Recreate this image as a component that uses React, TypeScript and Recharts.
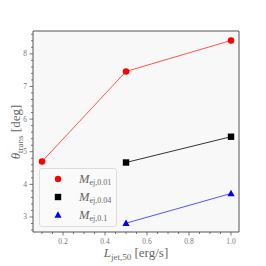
import React from 'react';
import { LineChart, Line, XAxis, YAxis, ReferenceArea } from 'recharts';

const lowMass = [
  { x: 0.1, y: 4.7 },
  { x: 0.5, y: 7.46 },
  { x: 1.0, y: 8.41 },
];
const midMass = [
  { x: 0.5, y: 4.67 },
  { x: 1.0, y: 5.46 },
];
const highMass = [
  { x: 0.5, y: 2.81 },
  { x: 1.0, y: 3.72 },
];

const xMajor = [0.2, 0.4, 0.6, 0.8, 1.0];
const yMajor = [3, 4, 5, 6, 7, 8];
const xDomain: [number, number] = [0.057, 1.038];
const yDomain: [number, number] = [2.54, 8.7];

const xTicks: number[] = [];
for (let v = 0.1; v <= 1.0001; v += 0.05) xTicks.push(Math.round(v * 100) / 100);
const yTicks: number[] = [];
for (let v = 2.6; v <= 8.6001; v += 0.2) yTicks.push(Math.round(v * 10) / 10);

const serif = '"Liberation Serif", "DejaVu Serif", serif';
const axisColor = '#555';
const labelColor = '#777';

const isMajor = (list: number[], v: number) => list.some((m) => Math.abs(m - v) < 1e-6);

const XTick = (props: any) => {
  const { x, y, payload } = props;
  const major = isMajor(xMajor, payload.value);
  return (
    <g>
      <line x1={x} x2={x} y1={y} y2={y + (major ? 3.5 : 2)} stroke={axisColor} strokeWidth={0.8} />
      {major && (
        <text x={x} y={y + 12} textAnchor="middle" fontSize={7.5} fill={labelColor} fontFamily={serif}>
          {payload.value.toFixed(1)}
        </text>
      )}
    </g>
  );
};

const YTick = (props: any) => {
  const { x, y, payload } = props;
  const major = isMajor(yMajor, payload.value);
  return (
    <g>
      <line x1={x} x2={x - (major ? 3.5 : 2)} y1={y} y2={y} stroke={axisColor} strokeWidth={0.8} />
      {major && (
        <text x={x - 6} y={y + 2.5} textAnchor="end" fontSize={7.5} fill={labelColor} fontFamily={serif}>
          {payload.value}
        </text>
      )}
    </g>
  );
};

const Circle = ({ cx, cy }: any) => <circle cx={cx} cy={cy} r={3.3} fill="#ff0000" />;
const Square = ({ cx, cy }: any) => <rect x={cx - 3.2} y={cy - 3.2} width={6.4} height={6.4} fill="#000" />;
const Triangle = ({ cx, cy }: any) => (
  <polygon points={`${cx},${cy - 3.8} ${cx - 3.6},${cy + 2.8} ${cx + 3.6},${cy + 2.8}`} fill="#0000ff" />
);

const legendRows = [
  { sub: 'ej,0.01', mark: <circle cx={5} cy={5} r={3.2} fill="#ff0000" /> },
  { sub: 'ej,0.04', mark: <rect x={1.8} y={1.8} width={6.4} height={6.4} fill="#000" /> },
  { sub: 'ej,0.1', mark: <polygon points="5,1.2 1.4,7.8 8.6,7.8" fill="#0000ff" /> },
];

const LegendBox = () => (
  <div
    style={{
      position: 'absolute',
      left: 39,
      top: 168,
      width: 78,
      height: 59,
      boxSizing: 'border-box',
      border: '1px solid #dcdcdc',
      borderRadius: 3,
      background: '#fafafa',
      fontFamily: serif,
      color: '#666',
      paddingTop: 1,
    }}
  >
    {legendRows.map((r) => (
      <div key={r.sub} style={{ display: 'flex', alignItems: 'center', height: 18 }}>
        <svg width={10} height={10} style={{ marginLeft: 13, marginRight: 16 }}>
          {r.mark}
        </svg>
        <span style={{ fontSize: 12.5, fontStyle: 'italic' }}>M</span>
        <span style={{ fontSize: 8, position: 'relative', top: 3 }}>{r.sub}</span>
      </div>
    ))}
  </div>
);

export default function App() {
  return (
    <div style={{ position: 'fixed', left: 0, top: 0, width: 266, height: 266, background: '#fff' }}>
      <LineChart width={266} height={266} margin={{ top: 31, right: 27, bottom: 0, left: 0 }}>
        <ReferenceArea
          x1={xDomain[0]}
          x2={xDomain[1]}
          y1={yDomain[0]}
          y2={yDomain[1]}
          fill="#f8f8f8"
          fillOpacity={1}
          stroke={axisColor}
          strokeWidth={1}
        />
        <XAxis
          type="number"
          dataKey="x"
          domain={xDomain}
          allowDataOverflow
          ticks={xTicks}
          interval={0}
          tickSize={0}
          tickMargin={0}
          tickLine={false}
          axisLine={false}
          tick={<XTick />}
          height={34}
        />
        <YAxis
          type="number"
          dataKey="y"
          domain={yDomain}
          allowDataOverflow
          ticks={yTicks}
          interval={0}
          tickSize={0}
          tickMargin={0}
          tickLine={false}
          axisLine={false}
          tick={<YTick />}
          width={33}
        />
        <Line
          data={lowMass}
          dataKey="y"
          stroke="#ff5555"
          strokeWidth={1}
          dot={<Circle />}
          activeDot={false}
          isAnimationActive={false}
        />
        <Line
          data={midMass}
          dataKey="y"
          stroke="#333"
          strokeWidth={1}
          dot={<Square />}
          activeDot={false}
          isAnimationActive={false}
        />
        <Line
          data={highMass}
          dataKey="y"
          stroke="#5555ff"
          strokeWidth={1}
          dot={<Triangle />}
          activeDot={false}
          isAnimationActive={false}
        />
        <text x={136} y={257} textAnchor="middle" fontFamily={serif} fill="#666" fontSize={13}>
          <tspan fontStyle="italic">L</tspan>
          <tspan fontSize={9} dy={3}>jet,50</tspan>
          <tspan dy={-3}> [erg/s]</tspan>
        </text>
        <text
          x={0}
          y={0}
          transform="translate(20,132) rotate(-90)"
          textAnchor="middle"
          fontFamily={serif}
          fill="#666"
          fontSize={13}
        >
          <tspan fontStyle="italic">θ</tspan>
          <tspan fontSize={9} dy={3}>trans</tspan>
          <tspan dy={-3}> [deg]</tspan>
        </text>
      </LineChart>
      <LegendBox />
    </div>
  );
}
